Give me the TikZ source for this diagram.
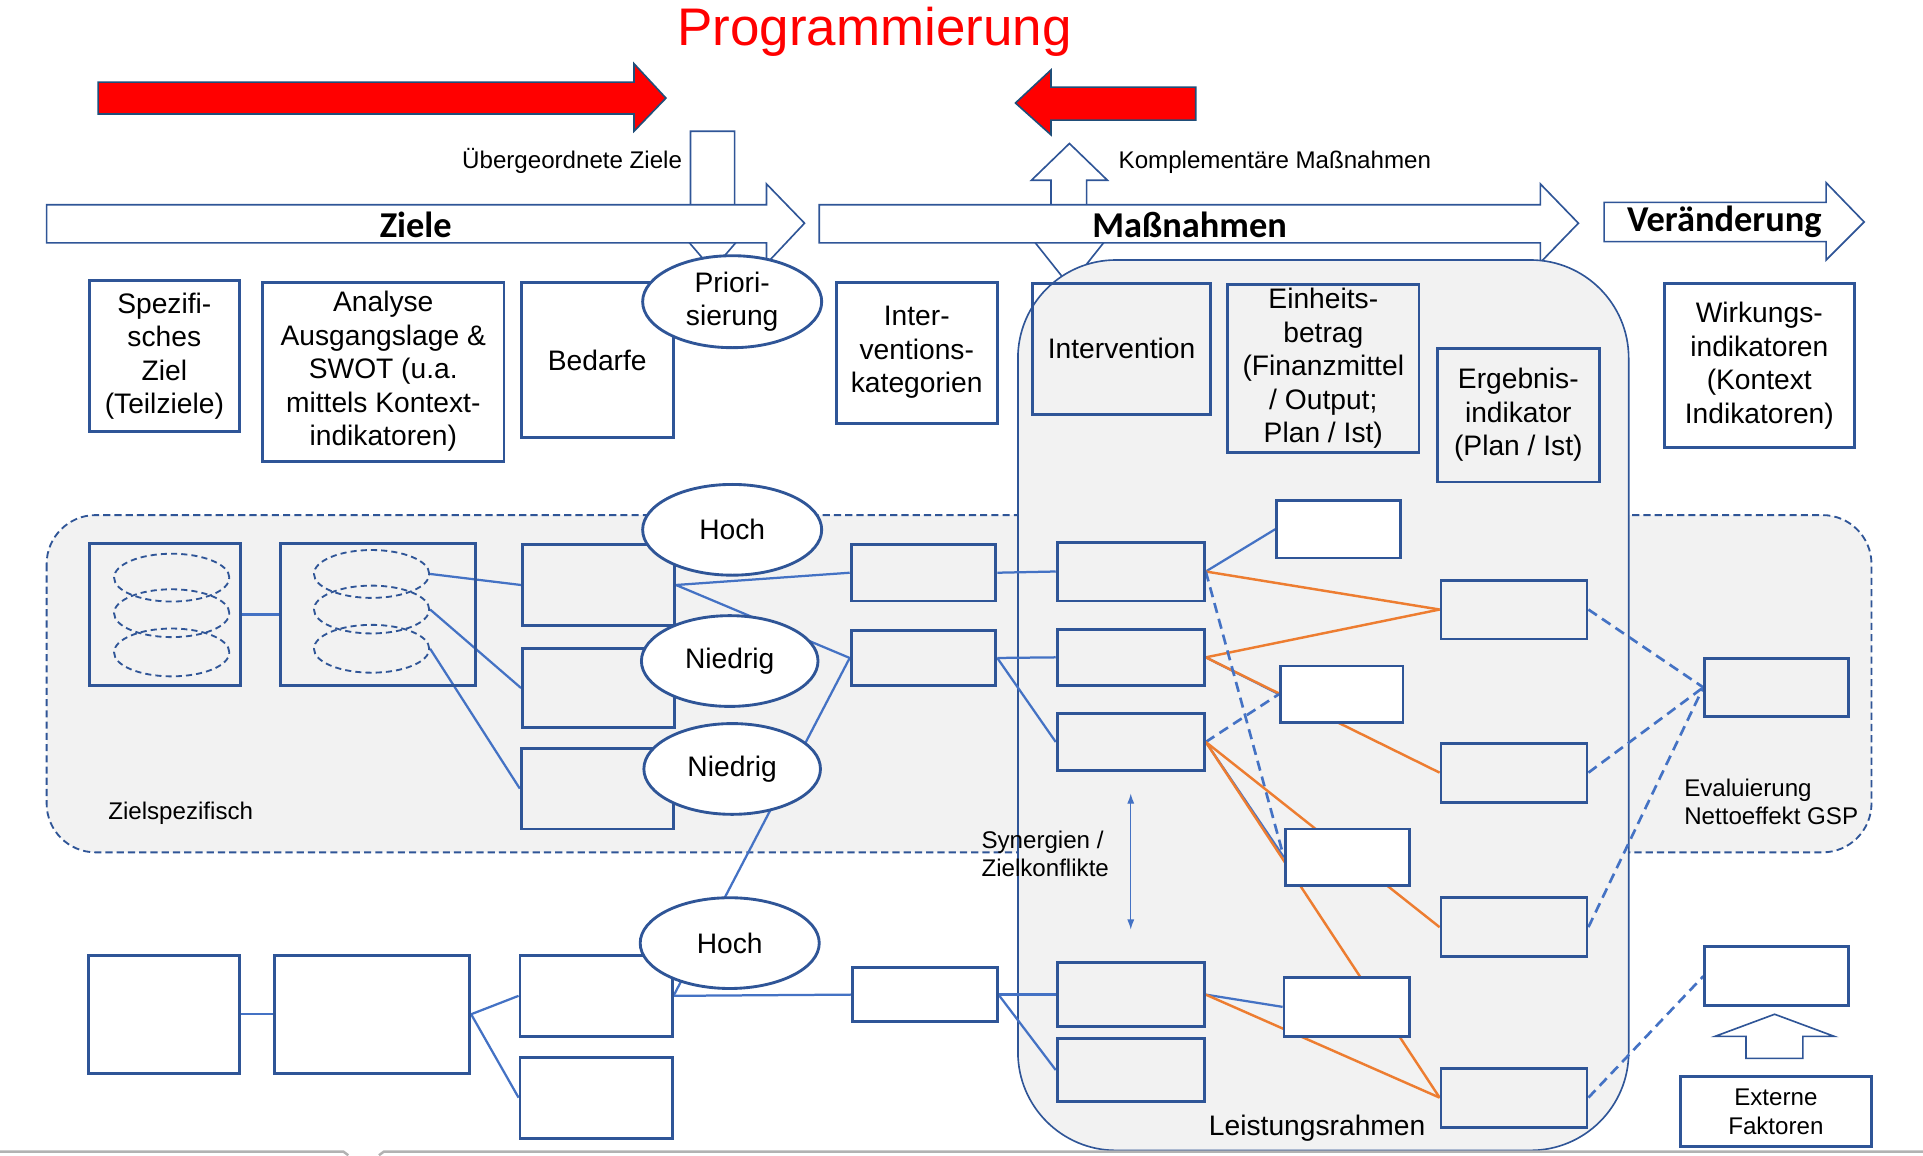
\documentclass[tikz,border=0pt]{standalone}
\usepackage{fontspec}
\setmainfont{Liberation Sans}
\newfontfamily\barfont{Carlito}
\usetikzlibrary{arrows.meta,positioning,shapes.geometric}
\definecolor{boxblue}{RGB}{47,85,151}
\definecolor{lineblue}{RGB}{68,114,196}
\definecolor{lineorange}{RGB}{237,125,49}
\definecolor{areagray}{RGB}{242,242,242}
\definecolor{arrowrim}{RGB}{31,78,121}
\pgfdeclarelayer{back}
\pgfdeclarelayer{lines}
\pgfsetlayers{back,lines,main}
\newcommand{\bigtext}{\fontsize{13.8}{16.4}\selectfont}
\newcommand{\smalltext}{\fontsize{11.8}{13.8}\selectfont}
\newcommand{\bartext}{\barfont\bfseries\fontsize{17.8}{20}\selectfont}
\tikzset{
  sz/.style 2 args={minimum width=#1*0.6pt, minimum height=#2*0.6pt},
  box/.style={draw=boxblue, line width=1.4pt, inner sep=0pt, align=center, font=\bigtext},
  wbox/.style={box, fill=white},
  oval/.style={ellipse, draw=boxblue, line width=1.4pt, fill=white, inner sep=-2pt, align=center, font=\bigtext},
  ring/.style={ellipse, draw=boxblue, line width=0.9pt, dash pattern=on 3pt off 2pt, sz={94}{39}},
  link/.style={draw=lineblue, line width=1.1pt},
  olink/.style={draw=lineorange, line width=1.2pt},
  dlink/.style={link, line width=1.3pt, dash pattern=on 5pt off 3pt},
  bar/.style={draw=boxblue, line width=0.8pt, fill=white},
  redarrow/.style={draw=arrowrim, line width=0.8pt, fill=red},
  note/.style={font=\smalltext, inner sep=0pt},
}

\begin{document}
\begin{tikzpicture}[x=0.6pt,y=-0.6pt]
\useasboundingbox (0,0) rectangle (1568,942);

% Title and red arrows
\node[text=red, font=\fontsize{25.9}{30}\selectfont] (titel) at (713,26) {Programmierung};
\draw[redarrow] (80,67) -- (517,67) -- (517,52) -- (543,80) -- (517,107) -- (517,93) -- (80,93) -- cycle;
\draw[redarrow] (975,71) -- (857,71) -- (857,57) -- (828,84) -- (857,110) -- (857,98) -- (975,98) -- cycle;

\begin{pgfonlayer}{back}
% Block arrows behind the bars
\draw[bar] (563,107) -- (599,107) -- (599,185) -- (611,185) -- (581,220) -- (551,185) -- (563,185) -- cycle;
\draw[bar] (872,117) -- (903,147) -- (886,147) -- (886,194) -- (903,194) -- (872,233)
  -- (841,194) -- (857,194) -- (857,147) -- (841,147) -- cycle;

% Bars
\draw[bar] (38,167) -- (625,167) -- (625,150) -- (656,182) -- (625,215) -- (625,198) -- (38,198) -- cycle;
\draw[bar] (668,167) -- (1256,167) -- (1256,150) -- (1287,182) -- (1256,214) -- (1256,198) -- (668,198) -- cycle;
\draw[bar] (1308,165) -- (1489,165) -- (1489,149) -- (1520,181) -- (1489,212) -- (1489,197) -- (1308,197) -- cycle;

% Zielspezifisch and Leistungsrahmen
\draw[draw=boxblue, fill=areagray, line width=0.9pt, dash pattern=on 3.5pt off 2pt, rounded corners=24pt]
  (38,420) rectangle (1526,695);
\draw[draw=boxblue, fill=areagray, line width=0.8pt, rounded corners=48pt] (830,212) rectangle (1328,938);
\end{pgfonlayer}

\node[font=\bartext] (ziele) at (339,183) {Ziele};
\node[font=\bartext] (massnahmen) at (970,183) {Maßnahmen};
\node[font=\bartext] (veraenderung) at (1406,181) {Veränderung};
\node[note] (uebziele) at (466.5,131) {Übergeordnete Ziele};
\node[note] (kompl) at (1039.5,132) {Komplementäre Maßnahmen};

% Top row
\node[box, sz={122}{123}] (spez) at (134,290.5) {Spezifi-\\sches\\Ziel\\(Teilziele)};
\node[box, sz={197}{146}] (analyse) at (312.5,303) {Analyse\\Ausgangslage \&\\SWOT (u.a.\\mittels Kontext-\\indikatoren)};
\node[box, sz={124}{127}] (bedarf) at (487,293.5) {Bedarfe};
\node[oval, sz={146}{75}] (prio) at (597,246) {Priori-\\sierung};
\node[box, sz={131}{115}] (ikat) at (747.5,287.5) {Inter-\\ventions-\\kategorien};
\node[box, sz={145}{107}] (interv) at (914.5,284.5) {Intervention};
\node[box, sz={156}{137}] (einheit) at (1079,300.5) {Einheits-\\betrag\\(Finanzmittel\\/ Output;\\Plan / Ist)};
\node[box, sz={132}{109}] (ergebnis) at (1238,338.5) {Ergebnis-\\indikator\\(Plan / Ist)};
\node[box, sz={155}{134}] (wirkung) at (1434.5,298) {Wirkungs-\\indikatoren\\(Kontext\\Indikatoren)};

% Zielspezifisch row
\node[box, sz={123}{116}] (ziel1) at (134.5,501) {};
\node[ring] (r1) at (140,471) {};
\node[ring] (r2) at (140,500) {};
\node[ring] (r3) at (140,532) {};
\node[box, sz={159}{116}] (ziel2) at (308.5,501) {};
\node[ring] (s1) at (303,468) {};
\node[ring] (s2) at (303,497) {};
\node[ring] (s3) at (303,529) {};
\node[box, sz={124}{66}] (a1) at (488,477) {};
\node[box, sz={124}{64}] (a2) at (488,561) {};
\node[box, sz={124}{66}] (a3) at (487,643) {};
\node[oval, sz={146}{74}] (hoch1) at (597,432) {Hoch};
\node[oval, sz={144}{74}] (nied1) at (595,539) {Niedrig};
\node[oval, sz={144}{74}] (nied2) at (597,627) {Niedrig};
\node[box, sz={118}{46}] (b1) at (753,467) {};
\node[box, sz={118}{45}] (b2) at (753,536.5) {};
\node[note, anchor=west] (zlabel) at (88,663) {Zielspezifisch};

% Leistungsrahmen
\node[box, sz={120}{48}] (e1) at (922,466) {};
\node[box, sz={120}{46}] (e2) at (922,536) {};
\node[box, sz={120}{46}] (e3) at (922,605) {};
\node[box, sz={120}{52}] (e4) at (922,811) {};
\node[box, sz={120}{51}] (e5) at (922,872.5) {};
\node[wbox, sz={101}{47}] (f1) at (1091.5,431.5) {};
\node[wbox, sz={100}{46}] (f2) at (1094,566) {};
\node[wbox, sz={101}{46}] (f3) at (1098.5,699) {};
\node[wbox, sz={102}{48}] (f4) at (1098,821) {};
\node[box, sz={119}{48}] (g1) at (1234.5,497) {};
\node[box, sz={119}{48}] (g2) at (1234.5,630) {};
\node[box, sz={119}{48}] (g3) at (1234.5,756) {};
\node[box, sz={119}{48}] (g4) at (1234.5,895) {};
\node[font=\bigtext] (lrahmen) at (1074,920) {Leistungsrahmen};
\node[note, anchor=west, align=left] (synlabel) at (800,696) {Synergien /\\Zielkonflikte};
\coordinate (syntop) at (922,647);
\coordinate (synbot) at (922,758);
\draw[lineblue, line width=0.6pt, {Latex[length=5pt,width=3.5pt]}-{Latex[length=5pt,width=3.5pt]}] (syntop) -- (synbot);

% Wirkung
\node[box, sz={117}{47}] (h1) at (1448.5,560.5) {};
\node[box, sz={117}{48}] (h2) at (1448.5,796) {};
\node[note, anchor=west, align=left] (evlabel) at (1373,654) {Evaluierung\\Nettoeffekt GSP};
\draw[bar] (1447,827) -- (1495.5,845) -- (1470,845) -- (1470,863) -- (1423.6,863) -- (1423.6,845) -- (1398.5,845) -- cycle;
\node[box, sz={156}{57}, font=\smalltext] (extern) at (1448,906.5) {Externe\\Faktoren};

% Bottom row
\node[box, sz={123}{96}] (unten1) at (133.5,827) {};
\node[box, sz={159}{96}] (unten2) at (303.5,827) {};
\node[box, sz={124}{66}] (c1) at (486,812) {};
\node[box, sz={124}{66}] (c2) at (486,895) {};
\node[oval, sz={146}{74}] (hoch2) at (595,769) {Hoch};
\node[box, sz={118}{44}] (d1) at (754,811) {};

% Connectors
\begin{pgfonlayer}{lines}
\draw[link] (ziel1.east) -- (ziel2.west);
\draw[link] (s1.east) -- (a1.west);
\draw[link] (s2.east) -- (a2.west);
\draw[link] (s3.east) -- (a3.west);
\draw[link] (a1.east) -- (b1.west);
\draw[link] (a1.east) -- (b2.west);
\draw[link] (c1.east) -- (b2.west);
\draw[link] (b1.east) -- (e1.west);
\draw[link] (b2.east) -- (e2.west);
\draw[link] (b2.east) -- (e3.west);
\draw[link] (e1.east) -- (f1.west);
\draw[olink] (e1.east) -- (g1.west);
\draw[olink] (e2.east) -- (g1.west);
\draw[link] (e2.east) -- (f2.west);
\draw[olink] (e2.east) -- (g2.west);
\draw[dlink] (e1.east) -- (f3.west);
\draw[dlink] (e3.east) -- (f2.west);
\draw[link] (e3.east) -- (f3.west);
\draw[olink] (e3.east) -- (g3.west);
\draw[olink] (e3.east) -- (g4.west);
\draw[dlink] (g1.east) -- (h1.west);
\draw[dlink] (g2.east) -- (h1.west);
\draw[dlink] (g3.east) -- (h1.west);
\draw[dlink] (g4.east) -- (h2.west);
\draw[link] (unten1.east) -- (unten2.west);
\draw[link] (unten2.east) -- (c1.west);
\draw[link] (unten2.east) -- (c2.west);
\draw[link] (c1.east) -- (d1.west);
\draw[link] (d1.east) -- (e4.west);
\draw[link] (d1.east) -- (e5.west);
\draw[link] (e4.east) -- (f4.west);
\draw[olink] (e4.east) -- (g4.west);
\end{pgfonlayer}

% Bottom edge
\draw[gray!60, line width=1.2pt] (0,939) -- (280,939) -- (284,942);
\draw[gray!60, line width=1.2pt] (309,942) -- (313,939) -- (1568,939);
\end{tikzpicture}
\end{document}
